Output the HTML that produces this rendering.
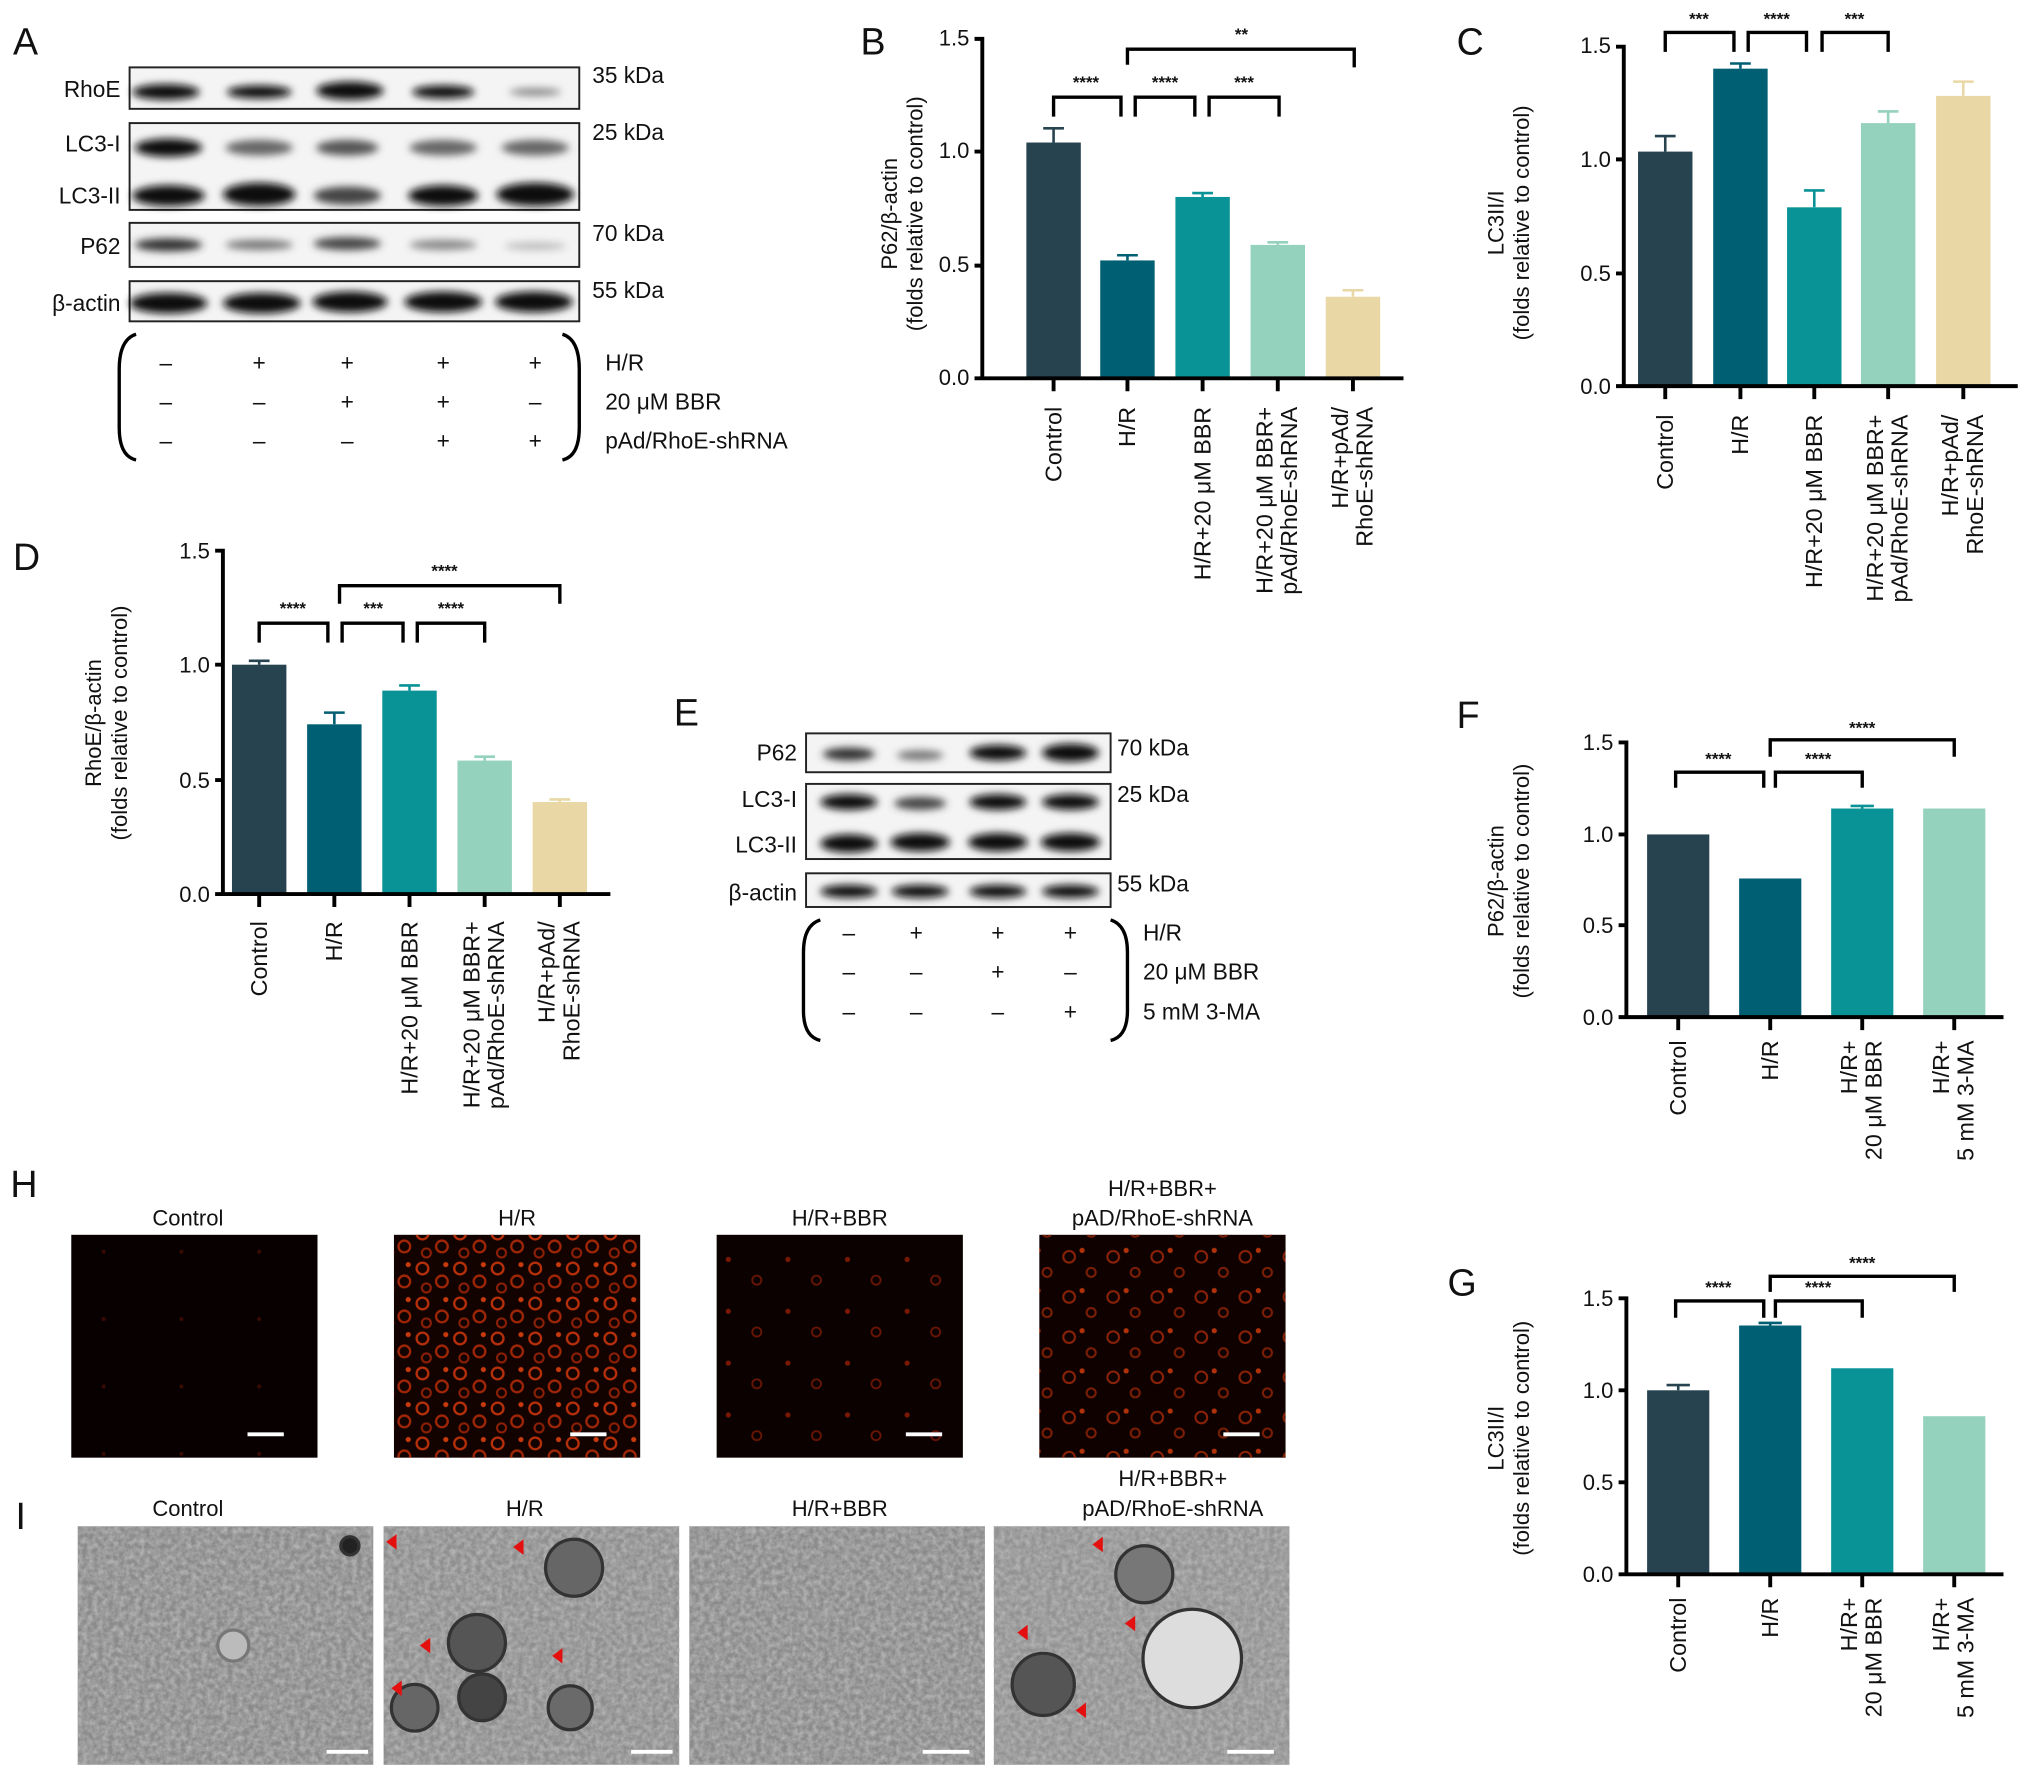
<!DOCTYPE html>
<html><head><meta charset="utf-8"><style>
html,body{margin:0;padding:0;background:#fff}
svg{display:block}
text{font-family:"Liberation Sans",sans-serif;fill:#111}
.t{font-size:17px}
.x text{font-size:18px}
.k{font-size:17.5px}
.L{font-size:29px}
.ax{stroke:#000;stroke-width:3;fill:none}
.br{stroke:#000;stroke-width:2.6;fill:none}
.st{font-size:13px;fill:#444;font-weight:bold}
.eb{stroke-width:2;fill:none}
</style></head><body>
<svg width="2032" height="1779" viewBox="0 0 1568 1373" preserveAspectRatio="none" xmlns="http://www.w3.org/2000/svg">
<defs>
<filter id="blur1"><feGaussianBlur stdDeviation="3"/></filter>
<filter id="tem" x="0" y="0" width="100%" height="100%"><feTurbulence type="fractalNoise" baseFrequency="0.25" numOctaves="3" seed="4"/><feColorMatrix type="matrix" values="0 0 0 0 0.45  0 0 0 0 0.45  0 0 0 0 0.45  0 0 0 -1.8 1.3"/></filter>
<pattern id="cells" width="29" height="27" patternUnits="userSpaceOnUse">
<circle cx="7" cy="7" r="4.5" fill="none" stroke="#b8300a" stroke-width="1.8"/>
<circle cx="22" cy="17" r="4.5" fill="none" stroke="#a02606" stroke-width="1.8"/>
<circle cx="10" cy="22" r="3.5" fill="none" stroke="#8c2005" stroke-width="1.6"/>
<circle cx="25" cy="4" r="2" fill="#c83a0c"/>
</pattern>
<pattern id="cellsw" width="46" height="40" patternUnits="userSpaceOnUse">
<circle cx="10" cy="12" r="2" fill="#7a1804"/>
<circle cx="32" cy="28" r="3.5" fill="none" stroke="#6a1604" stroke-width="1.4"/>
</pattern>
<pattern id="cellsc" width="60" height="52" patternUnits="userSpaceOnUse">
<circle cx="20" cy="30" r="1.5" fill="#3a0a02"/>
</pattern>
<pattern id="cellsm" width="34" height="31" patternUnits="userSpaceOnUse">
<circle cx="9" cy="9" r="4.5" fill="none" stroke="#8a2206" stroke-width="1.6"/>
<circle cx="26" cy="21" r="3.5" fill="none" stroke="#7a1e05" stroke-width="1.6"/>
<circle cx="19" cy="4" r="2" fill="#b03208"/>
</pattern>
</defs>

<!-- Panel A -->
<text x="10" y="42" class="L">A</text>
<g fill="#f4f4f4" stroke="#222" stroke-width="1.5">
<rect x="100" y="52" width="347" height="32"/>
<rect x="100" y="95" width="347" height="67"/>
<rect x="100" y="172" width="347" height="34"/>
<rect x="100" y="217" width="347" height="31"/>
</g>
<g fill="#111" filter="url(#blur1)">
<ellipse cx="128" cy="71" rx="26" ry="6"/><ellipse cx="200" cy="71" rx="25" ry="5"/><ellipse cx="270" cy="70" rx="26" ry="7"/><ellipse cx="342" cy="71" rx="24" ry="5"/><ellipse cx="413" cy="71" rx="20" ry="3" fill="#888"/>
<ellipse cx="130" cy="114" rx="26" ry="7"/><ellipse cx="200" cy="114" rx="26" ry="6" fill="#666"/><ellipse cx="268" cy="114" rx="24" ry="6" fill="#555"/><ellipse cx="342" cy="114" rx="26" ry="6" fill="#666"/><ellipse cx="413" cy="114" rx="26" ry="6" fill="#666"/>
<ellipse cx="130" cy="151" rx="28" ry="8"/><ellipse cx="200" cy="150" rx="28" ry="9"/><ellipse cx="268" cy="151" rx="26" ry="7" fill="#444"/><ellipse cx="342" cy="151" rx="27" ry="8"/><ellipse cx="413" cy="150" rx="30" ry="9"/>
<ellipse cx="130" cy="189" rx="26" ry="5" fill="#333"/><ellipse cx="200" cy="189" rx="26" ry="4" fill="#777"/><ellipse cx="268" cy="188" rx="26" ry="5" fill="#444"/><ellipse cx="342" cy="189" rx="26" ry="4" fill="#888"/><ellipse cx="413" cy="190" rx="24" ry="3" fill="#bbb"/>
<ellipse cx="130" cy="234" rx="30" ry="8"/><ellipse cx="202" cy="234" rx="30" ry="8"/><ellipse cx="270" cy="233" rx="29" ry="8"/><ellipse cx="342" cy="233" rx="30" ry="8"/><ellipse cx="412" cy="233" rx="30" ry="8"/>
</g>
<g class="k" text-anchor="end">
<text x="93" y="75">RhoE</text><text x="93" y="117">LC3-I</text><text x="93" y="157">LC3-II</text><text x="93" y="196">P62</text><text x="93" y="240">β-actin</text>
</g>
<g class="k">
<text x="457" y="64">35 kDa</text><text x="457" y="108">25 kDa</text><text x="457" y="186">70 kDa</text><text x="457" y="230">55 kDa</text>
</g>
<path d="M105,258 Q92,262 92,285 L92,330 Q92,352 105,355" class="br"/>
<path d="M434,258 Q447,262 447,285 L447,330 Q447,352 434,355" class="br"/>
<g class="k" text-anchor="middle">
<text x="128" y="286">–</text><text x="200" y="286">+</text><text x="268" y="286">+</text><text x="342" y="286">+</text><text x="413" y="286">+</text>
<text x="128" y="316">–</text><text x="200" y="316">–</text><text x="268" y="316">+</text><text x="342" y="316">+</text><text x="413" y="316">–</text>
<text x="128" y="346">–</text><text x="200" y="346">–</text><text x="268" y="346">–</text><text x="342" y="346">+</text><text x="413" y="346">+</text>
</g>
<g class="k"><text x="467" y="286">H/R</text><text x="467" y="316">20 μM BBR</text><text x="467" y="346">pAd/RhoE-shRNA</text></g>

<!-- Panel B -->
<text x="664" y="42" class="L">B</text>
<g transform="translate(692,165) rotate(-90)" text-anchor="middle" class="t"><text x="0" y="0">P62/β-actin</text><text x="0" y="20">(folds relative to control)</text></g>
<g class="t" text-anchor="end"><text x="748" y="35">1.5</text><text x="748" y="122">1.0</text><text x="748" y="210">0.5</text><text x="748" y="297">0.0</text></g>
<rect x="792" y="110" width="42" height="182" fill="#26434f"/>
<rect x="849" y="201" width="42" height="91" fill="#005f73"/>
<rect x="907" y="152" width="42" height="140" fill="#0a9396"/>
<rect x="965" y="189" width="42" height="103" fill="#94d2bd"/>
<rect x="1023" y="229" width="42" height="63" fill="#e9d8a6"/>
<path class="eb" stroke="#26434f" d="M813,110V99M805,99H821"/>
<path class="eb" stroke="#005f73" d="M870,201V197M862,197H878"/>
<path class="eb" stroke="#0a9396" d="M928,152V149M920,149H936"/>
<path class="eb" stroke="#94d2bd" d="M986,189V187M978,187H994"/>
<path class="eb" stroke="#e9d8a6" d="M1044,229V224M1036,224H1052"/>
<path class="ax" d="M752,30H758V292M752,117H758M752,205H758M752,292H1083M813,292V302M870,292V302M928,292V302M986,292V302M1044,292V302"/>
<path class="br" d="M813,90V75H865V90M876,90V75H922V90M933,90V75H987V90M870,50V38H1045V52"/>
<g class="st" text-anchor="middle"><text x="838" y="68">****</text><text x="899" y="68">****</text><text x="960" y="68">***</text><text x="958" y="31">**</text></g>
<g class="x" text-anchor="end">
<text transform="translate(819,314) rotate(-90)">Control</text>
<text transform="translate(876,314) rotate(-90)">H/R</text>
<text transform="translate(934,314) rotate(-90)">H/R+20 μM BBR</text>
<text transform="translate(982,314) rotate(-90)">H/R+20 μM BBR+</text>
<text transform="translate(1001,314) rotate(-90)">pAd/RhoE-shRNA</text>
<text transform="translate(1040,314) rotate(-90)">H/R+pAd/</text>
<text transform="translate(1059,314) rotate(-90)">RhoE-shRNA</text>
</g>

<!-- Panel C -->
<text x="1124" y="42" class="L">C</text>
<g transform="translate(1160,172) rotate(-90)" text-anchor="middle" class="t"><text x="0" y="0">LC3II/I</text><text x="0" y="20">(folds relative to control)</text></g>
<g class="t" text-anchor="end"><text x="1243" y="41">1.5</text><text x="1243" y="129">1.0</text><text x="1243" y="217">0.5</text><text x="1243" y="304">0.0</text></g>
<rect x="1264" y="117" width="42" height="181" fill="#26434f"/>
<rect x="1322" y="53" width="42" height="245" fill="#005f73"/>
<rect x="1379" y="160" width="42" height="138" fill="#0a9396"/>
<rect x="1436" y="95" width="42" height="203" fill="#94d2bd"/>
<rect x="1494" y="74" width="42" height="224" fill="#e9d8a6"/>
<path class="eb" stroke="#26434f" d="M1285,117V105M1277,105H1293"/>
<path class="eb" stroke="#005f73" d="M1343,53V49M1335,49H1351"/>
<path class="eb" stroke="#0a9396" d="M1400,160V147M1392,147H1408"/>
<path class="eb" stroke="#94d2bd" d="M1457,95V86M1449,86H1465"/>
<path class="eb" stroke="#e9d8a6" d="M1515,74V63M1507,63H1523"/>
<path class="ax" d="M1247,36H1253V298M1247,123H1253M1247,211H1253M1247,298H1557M1285,298V308M1343,298V308M1400,298V308M1457,298V308M1515,298V308"/>
<path class="br" d="M1285,40V25H1338V40M1349,40V25H1394V40M1406,40V25H1457V40"/>
<g class="st" text-anchor="middle"><text x="1311" y="19">***</text><text x="1371" y="19">****</text><text x="1431" y="19">***</text></g>
<g class="x" text-anchor="end">
<text transform="translate(1291,320) rotate(-90)">Control</text>
<text transform="translate(1349,320) rotate(-90)">H/R</text>
<text transform="translate(1406,320) rotate(-90)">H/R+20 μM BBR</text>
<text transform="translate(1453,320) rotate(-90)">H/R+20 μM BBR+</text>
<text transform="translate(1472,320) rotate(-90)">pAd/RhoE-shRNA</text>
<text transform="translate(1511,320) rotate(-90)">H/R+pAd/</text>
<text transform="translate(1530,320) rotate(-90)">RhoE-shRNA</text>
</g>

<!-- Panel D -->
<text x="10" y="440" class="L">D</text>
<g transform="translate(78,558) rotate(-90)" text-anchor="middle" class="t"><text x="0" y="0">RhoE/β-actin</text><text x="0" y="20">(folds relative to control)</text></g>
<g class="t" text-anchor="end"><text x="162" y="431">1.5</text><text x="162" y="519">1.0</text><text x="162" y="608">0.5</text><text x="162" y="696">0.0</text></g>
<rect x="179" y="513" width="42" height="177" fill="#26434f"/>
<rect x="237" y="559" width="42" height="131" fill="#005f73"/>
<rect x="295" y="533" width="42" height="157" fill="#0a9396"/>
<rect x="353" y="587" width="42" height="103" fill="#94d2bd"/>
<rect x="411" y="619" width="42" height="71" fill="#e9d8a6"/>
<path class="eb" stroke="#26434f" d="M200,513V510M192,510H208"/>
<path class="eb" stroke="#005f73" d="M258,559V550M250,550H266"/>
<path class="eb" stroke="#0a9396" d="M316,533V529M308,529H324"/>
<path class="eb" stroke="#94d2bd" d="M374,587V584M366,584H382"/>
<path class="eb" stroke="#e9d8a6" d="M432,619V617M424,617H440"/>
<path class="ax" d="M166,425H172V690M166,513H172M166,602H172M166,690H471M200,690V700M258,690V700M316,690V700M374,690V700M432,690V700"/>
<path class="br" d="M200,496V481H253V496M264,496V481H311V496M322,496V481H374V496M262,466V452H432V466"/>
<g class="st" text-anchor="middle"><text x="226" y="474">****</text><text x="288" y="474">***</text><text x="348" y="474">****</text><text x="343" y="445">****</text></g>
<g class="x" text-anchor="end">
<text transform="translate(206,711) rotate(-90)">Control</text>
<text transform="translate(264,711) rotate(-90)">H/R</text>
<text transform="translate(322,711) rotate(-90)">H/R+20 μM BBR</text>
<text transform="translate(370,711) rotate(-90)">H/R+20 μM BBR+</text>
<text transform="translate(389,711) rotate(-90)">pAd/RhoE-shRNA</text>
<text transform="translate(428,711) rotate(-90)">H/R+pAd/</text>
<text transform="translate(447,711) rotate(-90)">RhoE-shRNA</text>
</g>

<!-- Panel E -->
<text x="520" y="560" class="L">E</text>
<g fill="#f4f4f4" stroke="#222" stroke-width="1.5">
<rect x="622" y="566" width="235" height="30"/>
<rect x="622" y="605" width="235" height="58"/>
<rect x="622" y="674" width="235" height="26"/>
</g>
<g fill="#111" filter="url(#blur1)">
<ellipse cx="655" cy="582" rx="20" ry="5" fill="#333"/><ellipse cx="710" cy="583" rx="18" ry="4" fill="#777"/><ellipse cx="770" cy="581" rx="22" ry="6"/><ellipse cx="826" cy="581" rx="22" ry="7"/>
<ellipse cx="655" cy="619" rx="22" ry="6"/><ellipse cx="710" cy="620" rx="20" ry="5" fill="#444"/><ellipse cx="770" cy="619" rx="22" ry="6"/><ellipse cx="826" cy="619" rx="22" ry="6"/>
<ellipse cx="655" cy="651" rx="22" ry="7"/><ellipse cx="710" cy="650" rx="23" ry="7"/><ellipse cx="770" cy="650" rx="23" ry="7"/><ellipse cx="826" cy="650" rx="23" ry="7"/>
<ellipse cx="655" cy="688" rx="22" ry="5"/><ellipse cx="710" cy="688" rx="22" ry="5"/><ellipse cx="770" cy="688" rx="22" ry="5"/><ellipse cx="826" cy="688" rx="22" ry="5"/>
</g>
<g class="k" text-anchor="end"><text x="615" y="587">P62</text><text x="615" y="623">LC3-I</text><text x="615" y="658">LC3-II</text><text x="615" y="695">β-actin</text></g>
<g class="k"><text x="862" y="583">70 kDa</text><text x="862" y="619">25 kDa</text><text x="862" y="688">55 kDa</text></g>
<path d="M633,710 Q620,714 620,735 L620,780 Q620,800 633,803" class="br"/>
<path d="M857,710 Q870,714 870,735 L870,780 Q870,800 857,803" class="br"/>
<g class="k" text-anchor="middle">
<text x="655" y="726">–</text><text x="707" y="726">+</text><text x="770" y="726">+</text><text x="826" y="726">+</text>
<text x="655" y="756">–</text><text x="707" y="756">–</text><text x="770" y="756">+</text><text x="826" y="756">–</text>
<text x="655" y="787">–</text><text x="707" y="787">–</text><text x="770" y="787">–</text><text x="826" y="787">+</text>
</g>
<g class="k"><text x="882" y="726">H/R</text><text x="882" y="756">20 μM BBR</text><text x="882" y="787">5 mM 3-MA</text></g>

<!-- Panel F -->
<text x="1124" y="562" class="L">F</text>
<g transform="translate(1160,680) rotate(-90)" text-anchor="middle" class="t"><text x="0" y="0">P62/β-actin</text><text x="0" y="20">(folds relative to control)</text></g>
<g class="t" text-anchor="end"><text x="1245" y="579">1.5</text><text x="1245" y="650">1.0</text><text x="1245" y="720">0.5</text><text x="1245" y="791">0.0</text></g>
<rect x="1271" y="644" width="48" height="141" fill="#26434f"/>
<rect x="1342" y="678" width="48" height="107" fill="#005f73"/>
<rect x="1413" y="624" width="48" height="161" fill="#0a9396"/>
<rect x="1484" y="624" width="48" height="161" fill="#94d2bd"/>
<path class="eb" stroke="#0a9396" d="M1437,624V622M1428,622H1446"/>
<path class="ax" d="M1249,573H1255V785M1249,644H1255M1249,714H1255M1249,785H1546M1295,785V795M1366,785V795M1437,785V795M1508,785V795"/>
<path class="br" d="M1293,608V596H1361V608M1370,608V596H1437V608M1366,584V571H1508V584"/>
<g class="st" text-anchor="middle"><text x="1326" y="590">****</text><text x="1403" y="590">****</text><text x="1437" y="566">****</text></g>
<g class="x" text-anchor="end">
<text transform="translate(1301,803) rotate(-90)">Control</text>
<text transform="translate(1372,803) rotate(-90)">H/R</text>
<text transform="translate(1433,803) rotate(-90)">H/R+</text>
<text transform="translate(1452,803) rotate(-90)">20 μM BBR</text>
<text transform="translate(1504,803) rotate(-90)">H/R+</text>
<text transform="translate(1523,803) rotate(-90)">5 mM 3-MA</text>
</g>

<!-- Panel G -->
<text x="1117" y="1000" class="L">G</text>
<g transform="translate(1160,1110) rotate(-90)" text-anchor="middle" class="t"><text x="0" y="0">LC3II/I</text><text x="0" y="20">(folds relative to control)</text></g>
<g class="t" text-anchor="end"><text x="1245" y="1008">1.5</text><text x="1245" y="1079">1.0</text><text x="1245" y="1150">0.5</text><text x="1245" y="1221">0.0</text></g>
<rect x="1271" y="1073" width="48" height="142" fill="#26434f"/>
<rect x="1342" y="1023" width="48" height="192" fill="#005f73"/>
<rect x="1413" y="1056" width="48" height="159" fill="#0a9396"/>
<rect x="1484" y="1093" width="48" height="122" fill="#94d2bd"/>
<path class="eb" stroke="#26434f" d="M1295,1073V1069M1286,1069H1304"/>
<path class="eb" stroke="#005f73" d="M1366,1023V1021M1357,1021H1375"/>
<path class="ax" d="M1249,1002H1255V1215M1249,1073H1255M1249,1144H1255M1249,1215H1546M1295,1215V1225M1366,1215V1225M1437,1215V1225M1508,1215V1225"/>
<path class="br" d="M1293,1017V1004H1361V1017M1370,1017V1004H1437V1017M1366,997V985H1508V997"/>
<g class="st" text-anchor="middle"><text x="1326" y="998">****</text><text x="1403" y="998">****</text><text x="1437" y="979">****</text></g>
<g class="x" text-anchor="end">
<text transform="translate(1301,1233) rotate(-90)">Control</text>
<text transform="translate(1372,1233) rotate(-90)">H/R</text>
<text transform="translate(1433,1233) rotate(-90)">H/R+</text>
<text transform="translate(1452,1233) rotate(-90)">20 μM BBR</text>
<text transform="translate(1504,1233) rotate(-90)">H/R+</text>
<text transform="translate(1523,1233) rotate(-90)">5 mM 3-MA</text>
</g>

<!-- Panel H -->
<text x="8" y="924" class="L">H</text>
<g class="t" text-anchor="middle">
<text x="145" y="946">Control</text><text x="399" y="946">H/R</text><text x="648" y="946">H/R+BBR</text>
<text x="897" y="923">H/R+BBR+</text><text x="897" y="946">pAD/RhoE-shRNA</text>
</g>
<rect x="55" y="953" width="190" height="172" fill="#080000"/>
<rect x="55" y="953" width="190" height="172" fill="url(#cellsc)"/>
<rect x="304" y="953" width="190" height="172" fill="#120200"/>
<rect x="304" y="953" width="190" height="172" fill="url(#cells)"/>
<rect x="553" y="953" width="190" height="172" fill="#0b0100"/>
<rect x="553" y="953" width="190" height="172" fill="url(#cellsw)"/>
<rect x="802" y="953" width="190" height="172" fill="#0f0100"/>
<rect x="802" y="953" width="190" height="172" fill="url(#cellsm)"/>
<g stroke="#fff" stroke-width="3"><path d="M191,1107H219M440,1107H468M699,1107H727M944,1107H972"/></g>

<!-- Panel I -->
<text x="12" y="1180" class="L">I</text>
<g class="t" text-anchor="middle">
<text x="145" y="1170">Control</text><text x="405" y="1170">H/R</text><text x="648" y="1170">H/R+BBR</text>
<text x="905" y="1147">H/R+BBR+</text><text x="905" y="1170">pAD/RhoE-shRNA</text>
</g>
<g>
<rect x="60" y="1178" width="228" height="184" fill="#8a8a8a"/>
<rect x="296" y="1178" width="228" height="184" fill="#8e8e8e"/>
<rect x="532" y="1178" width="228" height="184" fill="#8a8a8a"/>
<rect x="767" y="1178" width="228" height="184" fill="#929292"/>
<rect x="60" y="1178" width="228" height="184" filter="url(#tem)"/>
<rect x="296" y="1178" width="228" height="184" filter="url(#tem)"/>
<rect x="532" y="1178" width="228" height="184" filter="url(#tem)"/>
<rect x="767" y="1178" width="228" height="184" filter="url(#tem)"/>
</g>
<g fill="none" stroke="#333" stroke-width="2.5">
<circle cx="368" cy="1268" r="22" fill="#555"/><circle cx="372" cy="1310" r="18" fill="#444"/><circle cx="443" cy="1210" r="22" fill="#666"/><circle cx="320" cy="1318" r="18" fill="#666"/><circle cx="440" cy="1318" r="17" fill="#6a6a6a"/>
<circle cx="883" cy="1215" r="22" fill="#777"/><circle cx="920" cy="1280" r="38" fill="#ddd"/><circle cx="805" cy="1300" r="24" fill="#555"/>
<circle cx="270" cy="1193" r="7" fill="#222"/><circle cx="180" cy="1270" r="12" fill="#bbb" stroke="#777"/>
</g>
<g fill="#e41010">
<path d="M298,1190l8,-6v12z"/><path d="M396,1194l8,-6v12z"/><path d="M324,1270l8,-6v12z"/><path d="M426,1278l8,-6v12z"/><path d="M302,1303l8,-6v12z"/>
<path d="M843,1192l8,-6v12z"/><path d="M868,1253l8,-6v12z"/><path d="M785,1260l8,-6v12z"/><path d="M830,1320l8,-6v12z"/>
</g>
<g stroke="#fff" stroke-width="3"><path d="M252,1352H284M487,1352H519M712,1352H748M947,1352H983"/></g>
</svg>
</body></html>
